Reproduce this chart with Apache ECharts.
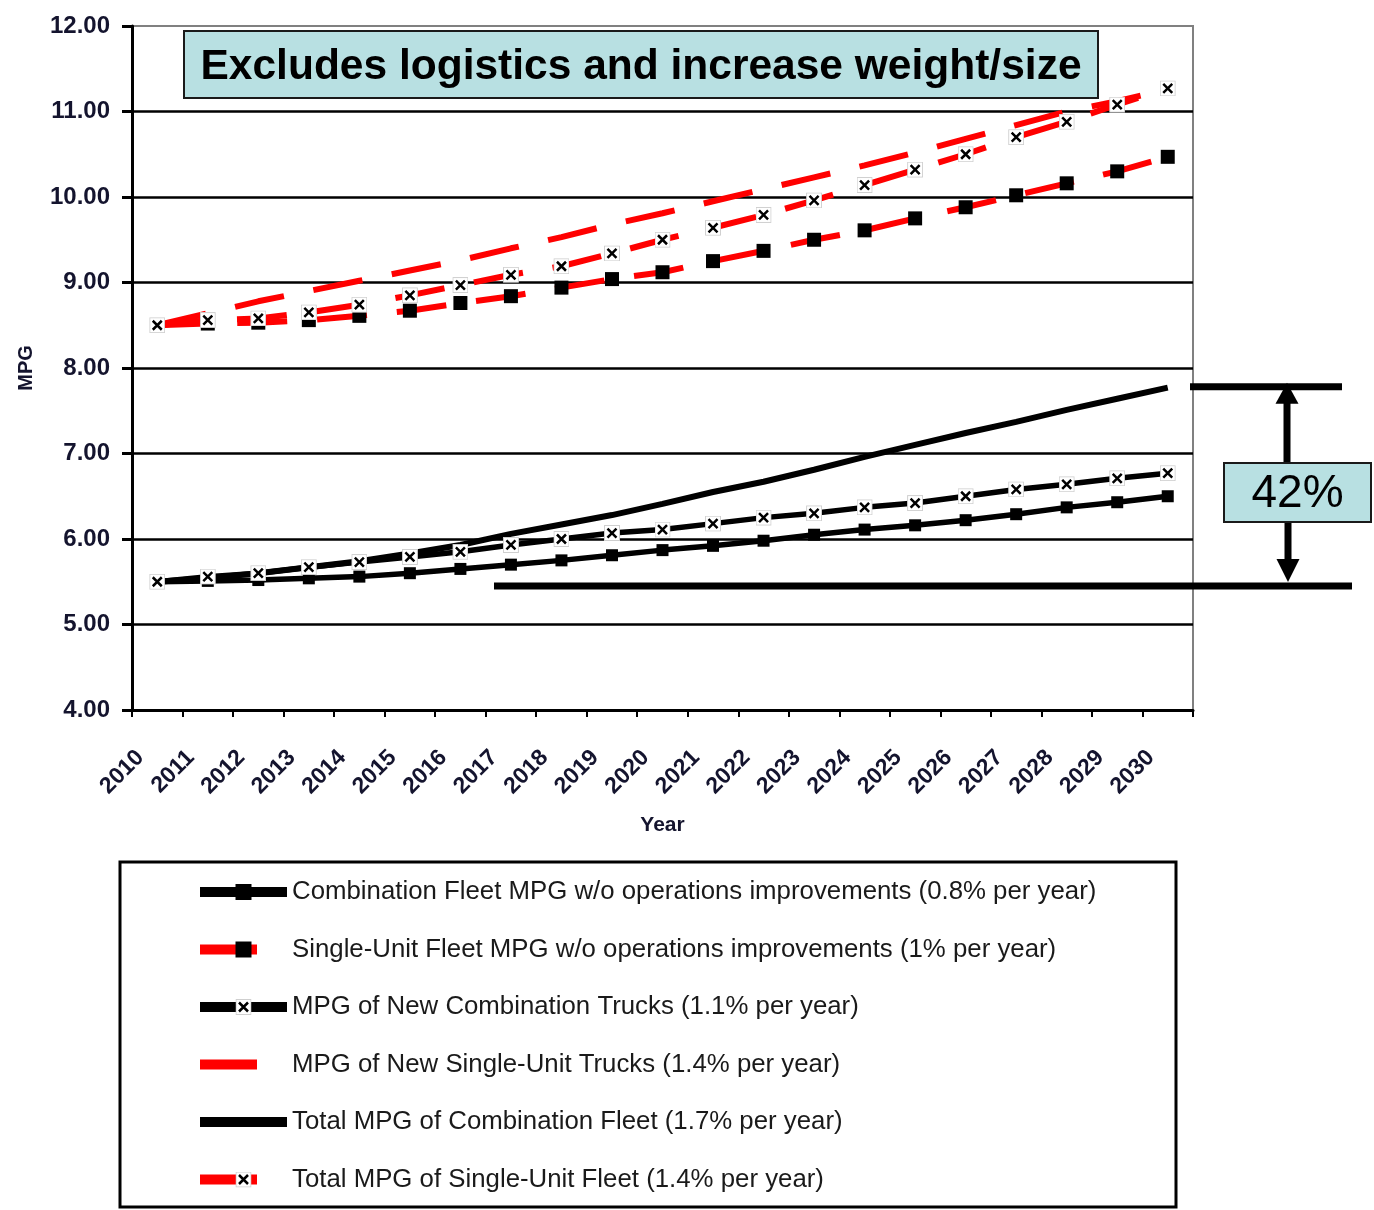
<!DOCTYPE html>
<html>
<head>
<meta charset="utf-8">
<title>Truck fleet MPG</title>
<script src="https://cdn.jsdelivr.net/npm/echarts@6/dist/echarts.min.js"></script>
<style>
    html, body { margin: 0; padding: 0; background: #fff; }
    #chart { width: 1374px; height: 1210px; }
</style>
</head>
<body>
<div id="chart"></div>
<script>
// years on the x axis
const years = ['2010', '2011', '2012', '2013', '2014', '2015', '2016', '2017', '2018', '2019', '2020',
    '2021', '2022', '2023', '2024', '2025', '2026', '2027', '2028', '2029', '2030'];

// values (MPG)
const comboFleet = [5.50, 5.51, 5.52, 5.54, 5.56, 5.60, 5.65, 5.70, 5.75, 5.81, 5.87,
    5.92, 5.98, 6.05, 6.11, 6.16, 6.22, 6.29, 6.37, 6.43, 6.50];
const singleFleet = [8.50, 8.52, 8.53, 8.56, 8.61, 8.67, 8.76, 8.84, 8.94, 9.04, 9.12,
    9.25, 9.37, 9.50, 9.61, 9.75, 9.88, 10.02, 10.16, 10.30, 10.47];
const newCombo = [5.50, 5.56, 5.60, 5.67, 5.73, 5.79, 5.85, 5.93, 6.00, 6.07, 6.11,
    6.18, 6.25, 6.30, 6.37, 6.42, 6.50, 6.58, 6.64, 6.71, 6.77];
const newSingle = [8.50, 8.64, 8.78, 8.90, 9.02, 9.14, 9.26, 9.40, 9.53, 9.68, 9.81,
    9.95, 10.09, 10.23, 10.37, 10.52, 10.68, 10.84, 11.00, 11.12, 11.26];
const totalCombo = [5.50, 5.54, 5.60, 5.67, 5.74, 5.83, 5.93, 6.06, 6.17, 6.28, 6.41,
    6.55, 6.67, 6.81, 6.96, 7.10, 7.24, 7.37, 7.51, 7.64, 7.77];
const totalSingle = [8.50, 8.56, 8.58, 8.65, 8.74, 8.85, 8.97, 9.09, 9.19, 9.34, 9.50,
    9.64, 9.79, 9.96, 10.14, 10.32, 10.50, 10.70, 10.88, 11.08, 11.27];

const seriesNames = [
    'Combination Fleet MPG w/o operations improvements (0.8% per year)',
    'Single-Unit Fleet MPG w/o operations improvements (1% per year)',
    'MPG of New Combination Trucks (1.1% per year)',
    'MPG of New Single-Unit Trucks (1.4% per year)',
    'Total MPG of Combination Fleet (1.7% per year)',
    'Total MPG of Single-Unit Fleet (1.4% per year)',
];

const titleText = 'Excludes logistics and increase weight/size';
// the 42% bracket on the right
const gapTop = 7.78;
const gapBase = 5.45;
const gapLabel = '42%';

const font = '"Liberation Sans", Arial, sans-serif';
const axisColor = '#14142e';
const teal = '#b8e0e2';
const red = '#ff0000';
const redDash = [50, 30];

// x marker: black cross on a small white box
const xSymbol = 'image://data:image/svg+xml;charset=utf-8,' + encodeURIComponent(
    "<svg xmlns='http://www.w3.org/2000/svg' width='32' height='32'>" +
    "<rect x='1' y='1' width='30' height='30' fill='#fff' stroke='#cfcfcf' stroke-width='2'/>" +
    "<path d='M7,7L25,25M25,7L7,25' stroke='#000' stroke-width='5'/></svg>"
);

const chart = echarts.init(document.getElementById('chart'));

const option = {
    backgroundColor: '#fff',
    animation: false,
    grid: {
        left: 132,
        top: 26,
        right: 181,
        bottom: 500,
        show: true,
        borderColor: '#808080',
        borderWidth: 2,
    },
    legend: {
        orient: 'vertical',
        left: 195,
        top: 877,
        padding: 0,
        itemWidth: 87,
        itemHeight: 20,
        itemGap: 27.5,
        lineStyle: {width: 10},
        textStyle: {fontFamily: font, fontSize: 25.8, color: '#1a1a1a', lineHeight: 30},
        data: [
            {name: seriesNames[0]},
            {name: seriesNames[1], lineStyle: {type: [57, 40]}},
            {name: seriesNames[2]},
            {name: seriesNames[3], lineStyle: {type: [57, 40]}, itemStyle: {opacity: 0}},
            {name: seriesNames[4], itemStyle: {opacity: 0}},
            {name: seriesNames[5], lineStyle: {type: [57, 40]}},
        ],
    },
    xAxis: {
        type: 'category',
        data: years,
        boundaryGap: true,
        name: 'Year',
        nameLocation: 'middle',
        nameGap: 105,
        nameTextStyle: {fontFamily: font, fontSize: 21, fontWeight: 'bold', color: axisColor},
        axisLine: {lineStyle: {color: '#000', width: 3}},
        axisTick: {show: true, length: 7, lineStyle: {color: '#000', width: 2}},
        axisLabel: {
            interval: 0,
            rotate: 45,
            margin: 27,
            padding: [0, 24, 0, 0],
            fontFamily: font,
            fontSize: 23,
            fontWeight: 'bold',
            color: axisColor,
        },
        splitLine: {show: false},
    },
    yAxis: {
        type: 'value',
        min: 4,
        max: 12,
        interval: 1,
        name: 'MPG',
        nameLocation: 'middle',
        nameGap: 96,
        nameTextStyle: {fontFamily: font, fontSize: 20, fontWeight: 'bold', color: axisColor},
        axisLine: {show: true, lineStyle: {color: '#000', width: 3}},
        axisTick: {show: true, length: 10, lineStyle: {color: '#000', width: 3}},
        axisLabel: {
            margin: 22,
            formatter: (v) => v.toFixed(2),
            fontFamily: font,
            fontSize: 24,
            fontWeight: 'bold',
            color: axisColor,
        },
        splitLine: {show: true, showMaxLine: false, lineStyle: {color: '#000', width: 2.5}},
    },
    series: [
        {
            name: seriesNames[0],
            type: 'line',
            data: comboFleet,
            symbol: 'rect',
            symbolSize: 12,
            itemStyle: {color: '#000'},
            lineStyle: {color: '#000', width: 5.5},
        },
        {
            name: seriesNames[1],
            type: 'line',
            data: singleFleet,
            symbol: 'rect',
            symbolSize: 14,
            itemStyle: {color: '#000'},
            lineStyle: {color: red, width: 6, type: redDash},
        },
        {
            name: seriesNames[2],
            type: 'line',
            data: newCombo,
            symbol: xSymbol,
            symbolSize: 16,
            itemStyle: {color: '#000'},
            lineStyle: {color: '#000', width: 5.5},
        },
        {
            name: seriesNames[3],
            type: 'line',
            data: newSingle,
            symbol: 'none',
            itemStyle: {color: red},
            lineStyle: {color: red, width: 6, type: redDash},
        },
        {
            name: seriesNames[4],
            type: 'line',
            data: totalCombo,
            symbol: 'none',
            z: 1,
            itemStyle: {color: '#000'},
            lineStyle: {color: '#000', width: 6},
        },
        {
            name: seriesNames[5],
            type: 'line',
            data: totalSingle,
            symbol: xSymbol,
            symbolSize: 16,
            itemStyle: {color: red},
            lineStyle: {color: red, width: 6, type: redDash},
        },
    ],
};
chart.setOption(option);

// annotations placed from axis values
const yTop = chart.convertToPixel({yAxisIndex: 0}, gapTop);
const yBase = chart.convertToPixel({yAxisIndex: 0}, gapBase);

chart.setOption({
    graphic: [
        {
            type: 'rect',
            z: 100,
            shape: {x: 184, y: 31, width: 914, height: 67},
            style: {fill: teal, stroke: '#1a1a1a', lineWidth: 2},
        },
        {
            type: 'text',
            z: 101,
            x: 641,
            y: 67,
            style: {
                text: titleText,
                font: 'bold 42.5px ' + font,
                fill: '#000',
                align: 'center',
                verticalAlign: 'middle',
            },
        },
        {
            type: 'rect',
            z: 100,
            shape: {x: 120, y: 862, width: 1056, height: 345},
            style: {fill: 'none', stroke: '#000', lineWidth: 3},
        },
        {
            type: 'line',
            z: 100,
            shape: {x1: 1190, y1: yTop, x2: 1342, y2: yTop},
            style: {stroke: '#000', lineWidth: 7},
        },
        {
            type: 'line',
            z: 100,
            shape: {x1: 494, y1: yBase, x2: 1352, y2: yBase},
            style: {stroke: '#000', lineWidth: 7},
        },
        {
            type: 'line',
            z: 100,
            shape: {x1: 1287, y1: yTop + 16, x2: 1287, y2: 463},
            style: {stroke: '#000', lineWidth: 7},
        },
        {
            type: 'polygon',
            z: 100,
            shape: {points: [[1287, yTop - 4], [1275.5, yTop + 17], [1298.5, yTop + 17]]},
            style: {fill: '#000'},
        },
        {
            type: 'line',
            z: 100,
            shape: {x1: 1288, y1: 522, x2: 1288, y2: yBase - 26},
            style: {stroke: '#000', lineWidth: 7},
        },
        {
            type: 'polygon',
            z: 100,
            shape: {points: [[1288, yBase - 4], [1276.5, yBase - 27], [1299.5, yBase - 27]]},
            style: {fill: '#000'},
        },
        {
            type: 'rect',
            z: 100,
            shape: {x: 1224, y: 463, width: 147, height: 59},
            style: {fill: teal, stroke: '#1a1a1a', lineWidth: 2},
        },
        {
            type: 'text',
            z: 101,
            x: 1297.5,
            y: 494,
            style: {
                text: gapLabel,
                font: '46px ' + font,
                fill: '#000',
                align: 'center',
                verticalAlign: 'middle',
            },
        },
    ],
});
</script>
</body>
</html>
